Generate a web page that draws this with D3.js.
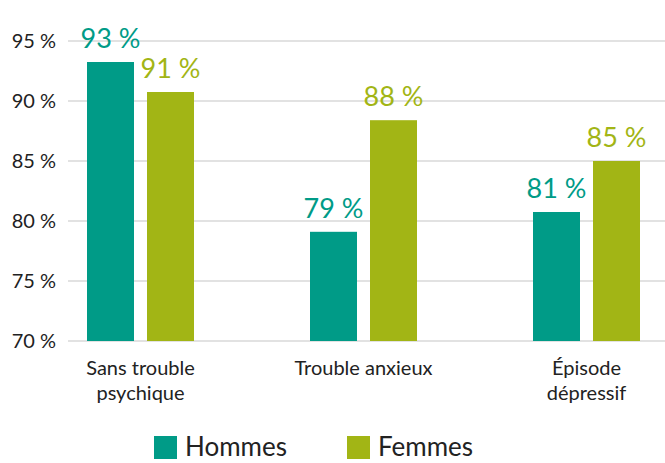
<!DOCTYPE html>
<html>
<head>
<meta charset="utf-8">
<script src="https://cdn.jsdelivr.net/npm/d3@7"></script>
<style>
  body { margin: 0; background: #fff; }
  text { font-family: Lato, "Open Sans", sans-serif; }
</style>
</head>
<body>
<div id="chart"></div>
<script>
const categories = [["Sans trouble", "psychique"], ["Trouble anxieux"], ["Épisode", "dépressif"]];
const seriesNames = ["Hommes", "Femmes"];
const hommes = [93.25, 79.1, 80.75];
const femmes = [90.75, 88.4, 85.0];
const labelsH = ["93 %", "79 %", "81 %"];
const labelsF = ["91 %", "88 %", "85 %"];
const yTicks = [70, 75, 80, 85, 90, 95];
const colors = ["#009b87", "#a2b515"];

const width = 665;
const height = 463;

const svg = d3.select("#chart")
  .append("svg")
  .attr("width", width)
  .attr("height", height);

const y = d3.scaleLinear().domain([70, 95]).range([341, 41]);

const x = d3.scalePoint()
  .domain(d3.range(categories.length))
  .range([140.5, 586.5]);

const barW = 47;
const gap = 13;

// gridlines
svg.append("g")
  .selectAll("line")
  .data(yTicks)
  .enter()
  .append("line")
  .attr("x1", 68)
  .attr("x2", width)
  .attr("y1", d => y(d))
  .attr("y2", d => y(d))
  .style("stroke", "#d9d9d9")
  .style("stroke-width", 1.5);

// y axis labels
const yAxis = d3.axisLeft(y)
  .tickValues(yTicks)
  .tickSize(0)
  .tickPadding(0)
  .tickFormat(d => d + " %");

svg.append("g")
  .attr("transform", "translate(56,0)")
  .call(yAxis)
  .call(g => g.select(".domain").remove())
  .selectAll("text")
  .style("font-family", "Lato, 'Open Sans', sans-serif")
  .style("font-size", "20px")
  .style("fill", "#222");

const series = [hommes, femmes];
const labels = [labelsH, labelsF];

series.forEach((vals, s) => {
  const offset = s === 0 ? -(gap / 2 + barW) : gap / 2;

  svg.append("g")
    .selectAll("rect")
    .data(vals)
    .enter()
    .append("rect")
    .attr("x", (d, i) => x(i) + offset)
    .attr("y", d => y(d))
    .attr("width", barW)
    .attr("height", d => y(70) - y(d))
    .style("fill", colors[s]);

  svg.append("g")
    .selectAll("text")
    .data(vals)
    .enter()
    .append("text")
    .attr("x", (d, i) => x(i) + offset + barW / 2)
    .attr("y", d => Math.max(37, y(d) - 14))
    .attr("text-anchor", "middle")
    .style("font-size", "27px")
    .style("fill", colors[s])
    .text((d, i) => labels[s][i]);
});

// category labels
const cat = svg.append("g")
  .selectAll("text")
  .data(categories)
  .enter()
  .append("text")
  .attr("x", (d, i) => x(i))
  .attr("y", 375)
  .attr("text-anchor", "middle")
  .style("font-size", "20px")
  .style("fill", "#222");

cat.selectAll("tspan")
  .data(d => d)
  .enter()
  .append("tspan")
  .attr("x", function() { return d3.select(this.parentNode).attr("x"); })
  .attr("dy", (d, i) => i === 0 ? 0 : 25)
  .text(d => d);

// legend
const legendX = [154, 347];
const legend = svg.append("g")
  .selectAll("g")
  .data(seriesNames)
  .enter()
  .append("g")
  .attr("transform", (d, i) => `translate(${legendX[i]},436)`);

legend.append("rect")
  .attr("width", 23)
  .attr("height", 23)
  .style("fill", (d, i) => colors[i]);

legend.append("text")
  .attr("x", 31)
  .attr("y", 20)
  .style("font-size", "26px")
  .style("fill", "#222")
  .text(d => d);
</script>
</body>
</html>
